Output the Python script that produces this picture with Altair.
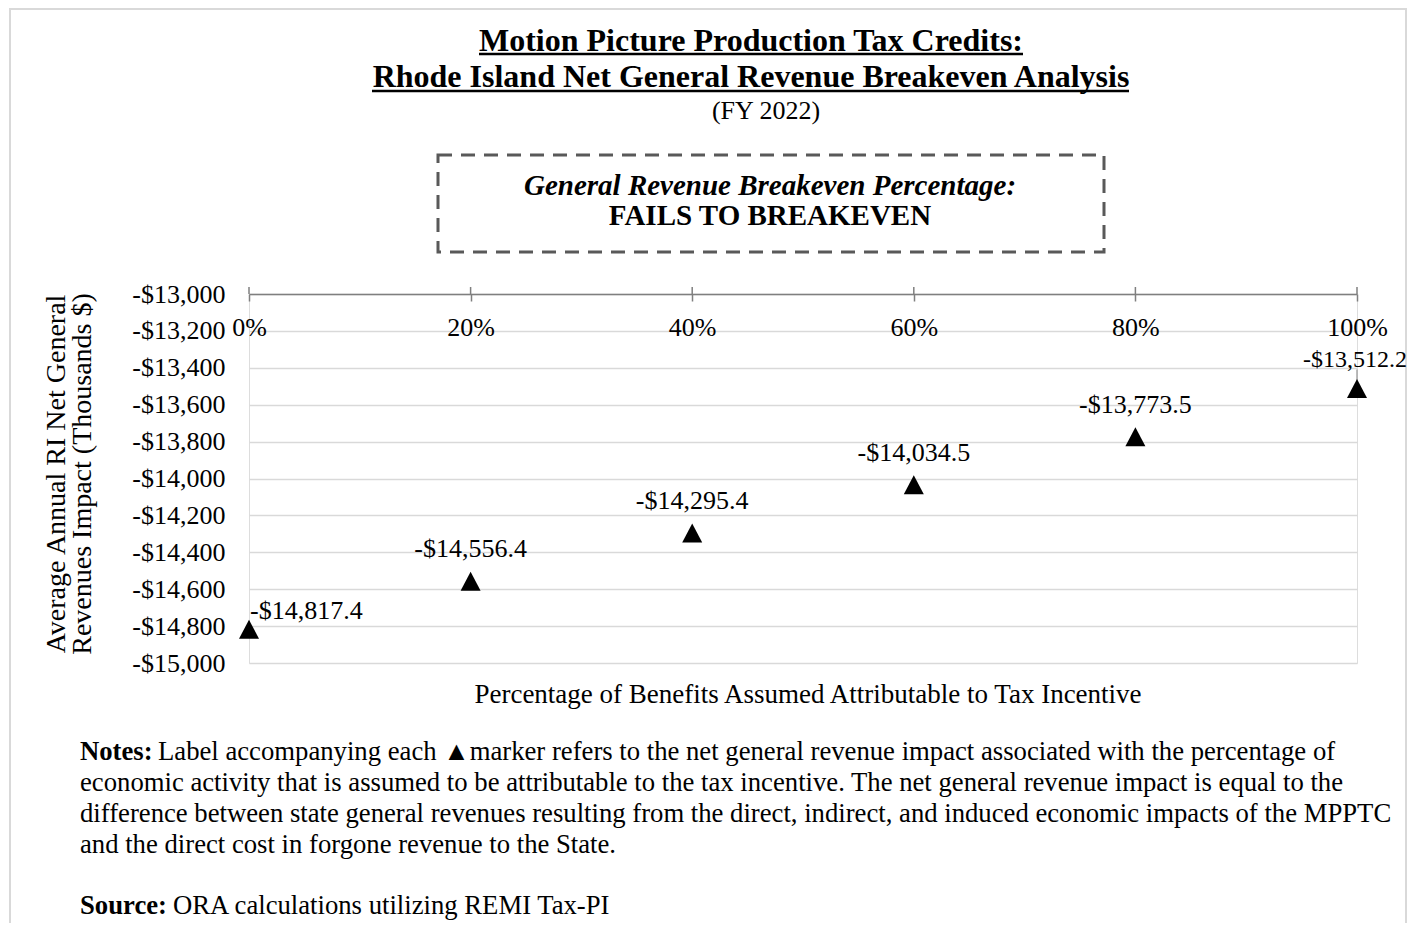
import altair as alt
import pandas as pd

# ---- data ----
pct = [0, 20, 40, 60, 80, 100]
impact = [-14817.4, -14556.4, -14295.4, -14034.5, -13773.5, -13512.2]
point_labels = ["-$14,817.4", "-$14,556.4", "-$14,295.4", "-$14,034.5", "-$13,773.5", "-$13,512.2"]
y_ticks = [-15000, -14800, -14600, -14400, -14200, -14000, -13800, -13600, -13400, -13200, -13000]
x_ticks = [0, 20, 40, 60, 80, 100]

title_lines = ["Motion Picture Production Tax Credits:",
               "Rhode Island Net General Revenue Breakeven Analysis",
               "(FY 2022)"]
box_lines = ["General Revenue Breakeven Percentage:", "FAILS TO BREAKEVEN"]
y_title = ["Average Annual RI Net General", "Revenues Impact (Thousands $)"]
x_title = "Percentage of Benefits Assumed Attributable to Tax Incentive"
notes_lead = "Notes:"
notes_lines = [
    "Label accompanying each \u25B2marker refers to the net general revenue impact associated with the percentage of",
    "economic activity that is assumed to be attributable to the tax incentive. The net general revenue impact is equal to the",
    "difference between state general revenues resulting from the direct, indirect, and induced economic impacts of the MPPTC",
    "and the direct cost in forgone revenue to the State.",
]
source_lead = "Source:"
source_text = "ORA calculations utilizing REMI Tax-PI"

FONT = "Liberation Serif"
AXC = "#7f7f7f"
W, H = 1108, 369

df = pd.DataFrame({"pct": pct, "impact": impact, "label": point_labels})
one = pd.DataFrame({"a": [1]})

xenc = alt.X("pct:Q",
             scale=alt.Scale(domain=[0, 100], nice=False, zero=False),
             axis=alt.Axis(orient="bottom", offset=-H, values=x_ticks, tickCount=20,
                           labelExpr="datum.value + '%'", tickSize=7, tickColor=AXC,
                           tickWidth=1.5, domainColor=AXC, domainWidth=1.5,
                           labelFont=FONT, labelFontSize=26, labelColor="black",
                           labelPadding=26, labelBaseline="middle",
                           labelFlush=False, labelOverlap=False, grid=False, title=None))
yenc = alt.Y("impact:Q",
             scale=alt.Scale(domain=[-15000, -13000], nice=False, zero=False),
             axis=alt.Axis(values=y_ticks, tickCount=20,
                           labelExpr="'-$' + format(abs(datum.value), ',')",
                           domain=False, ticks=False, grid=True, gridColor="#d9d9d9",
                           gridWidth=1.5, labelFont=FONT, labelFontSize=26,
                           labelOverlap=False, labelFlush=False,
                           labelColor="black", labelPadding=24, title=None))

base = alt.Chart(df)
points = base.mark_point(shape="M0,-0.95L1,0.95L-1,0.95Z", filled=True, size=400,
                         color="black", opacity=1, strokeWidth=0).encode(x=xenc, y=yenc)
tick_up = base.mark_rule(color=AXC, strokeWidth=1.5).encode(
    x="pct:Q", y=alt.value(-7), y2=alt.value(0))

lab_first = base.transform_filter("datum.pct == 0").mark_text(
    align="left", baseline="middle", dx=1, dy=-18, font=FONT, fontSize=26,
    color="black").encode(x="pct:Q", y="impact:Q", text="label:N")
lab_mid = base.transform_filter("datum.pct > 0 && datum.pct < 100").mark_text(
    align="center", baseline="middle", dy=-32, font=FONT, fontSize=26,
    color="black").encode(x="pct:Q", y="impact:Q", text="label:N")
lab_last = base.transform_filter("datum.pct == 100").mark_text(
    align="center", baseline="middle", dx=-2, dy=-29, font=FONT, fontSize=24,
    color="black").encode(x="pct:Q", y="impact:Q", text="label:N")
leader = base.transform_filter("datum.pct == 100").mark_rule(
    color="#a6a6a6", strokeWidth=1.5, yOffset=-19, y2Offset=-7).encode(
    x="pct:Q", y="impact:Q", y2="impact:Q")

ann = alt.Chart(one)


def txt(s, x, y, size=26, weight="normal", style="normal", align="center", angle=0):
    return ann.mark_text(text=s, align=align, baseline="middle", font=FONT,
                         fontSize=size, fontWeight=weight, fontStyle=style,
                         angle=angle, color="black").encode(x=alt.value(x), y=alt.value(y))


def hline(x1, x2, y, w=2.5, color="black"):
    return ann.mark_rule(color=color, strokeWidth=w).encode(
        x=alt.value(x1), x2=alt.value(x2), y=alt.value(y))


border = ann.mark_rect(fill="white", fillOpacity=0, stroke="#d9d9d9", strokeWidth=2).encode(
    x=alt.value(-239), x2=alt.value(1157), y=alt.value(-285), y2=alt.value(700))
box = ann.mark_rect(fill="white", fillOpacity=0, stroke="#595959", strokeWidth=3,
                    strokeDash=[14, 9]).encode(
    x=alt.value(189), x2=alt.value(855), y=alt.value(-139), y2=alt.value(-42))

NS = 26.7
layers = [
    border,
    txt(title_lines[0], 502, -253.5, size=32, weight="bold"),
    hline(230, 774, -240),
    txt(title_lines[1], 502, -217.5, size=32, weight="bold"),
    hline(123, 880, -203),
    txt(title_lines[2], 517, -183, size=26),
    box,
    txt(box_lines[0], 521, -108, size=29, weight="bold", style="italic"),
    txt(box_lines[1], 521, -78, size=29, weight="bold"),
    txt(y_title[0], -192, 180, size=28, angle=270),
    txt(y_title[1], -166, 180, size=28, angle=270),
    txt(x_title, 559, 401, size=27),
    txt(notes_lead, -169, 458, size=NS, weight="bold", align="left"),
    txt(notes_lines[0], -91, 458, size=NS, align="left"),
    txt(notes_lines[1], -169, 489, size=NS, align="left"),
    txt(notes_lines[2], -169, 520, size=NS, align="left"),
    txt(notes_lines[3], -169, 551, size=NS, align="left"),
    txt(source_lead, -169, 612, size=NS, weight="bold", align="left"),
    txt(source_text, -76, 612, size=NS, align="left"),
    tick_up,
    leader,
    points,
    lab_first, lab_mid, lab_last,
]

chart = alt.layer(*layers).properties(
    width=W, height=H,
    padding={"left": 241, "top": 286, "right": 51, "bottom": 260},
    autosize=alt.AutoSizeParams(type="none"),
).configure_view(stroke=None).configure(background="white")

chart.save("out.html", embed_options={"renderer": "svg", "actions": False})
